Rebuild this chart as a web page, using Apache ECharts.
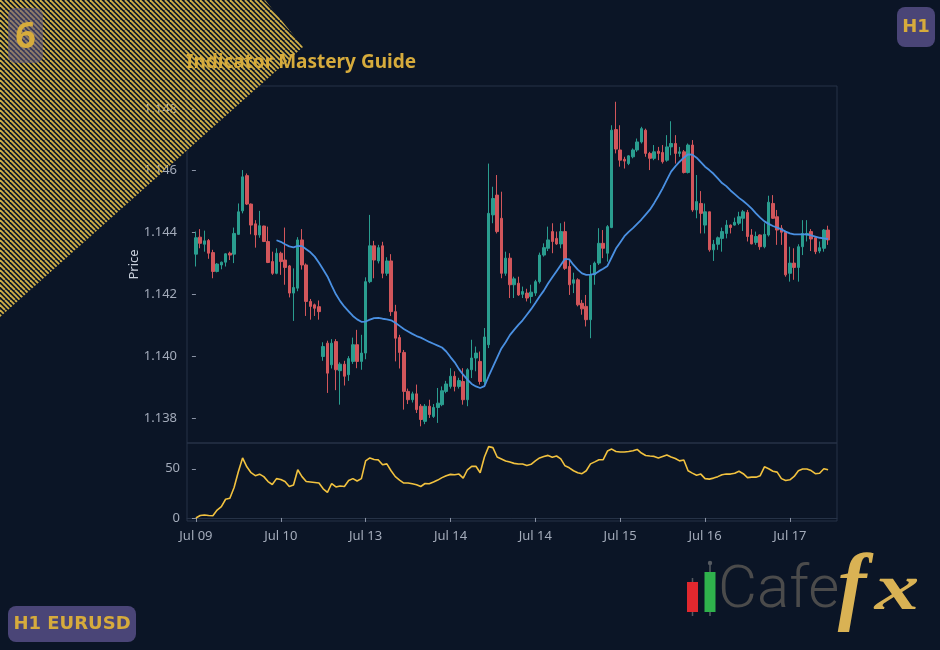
<!DOCTYPE html>
<html><head><meta charset="utf-8">
<script src="https://cdn.jsdelivr.net/npm/echarts@6/dist/echarts.min.js"></script>
<style>html,body{margin:0;padding:0;background:#0b1526;}#chart{width:940px;height:650px;}</style>
</head><body><div id="chart"></div>
<script>
const dayLabels = ['Jul 09','Jul 10','Jul 13','Jul 14','Jul 14','Jul 15','Jul 16','Jul 17'];
const labelIdx = [0,20,40,60,80,100,120,140];
const priceTicks = [1.138,1.140,1.142,1.144,1.146,1.148];
const oscTicks = [0,50];

const opens = [1.14330,1.14385,1.14362,1.14374,1.14335,1.14274,1.14295,1.14304,1.14333,1.14330,
1.14394,1.14470,1.14584,1.14492,1.14428,1.14392,1.14421,1.14371,1.14306,1.14268,
1.14333,1.14311,1.14292,1.14204,1.14220,1.14376,1.14295,1.14177,1.14166,1.14160,
1.13999,1.14042,1.13972,1.14047,1.13953,1.13974,1.13940,1.13983,1.14037,1.13983,
1.14010,1.14241,1.14357,1.14308,1.14357,1.14268,1.14308,1.14144,1.14060,1.14012,
1.13886,1.13859,1.13878,1.13838,1.13789,1.13838,1.13805,1.13834,1.13843,1.13886,
1.13902,1.13935,1.13902,1.13918,1.13859,1.13956,1.13994,1.13983,1.13918,1.14037,
1.14457,1.14521,1.14446,1.14268,1.14317,1.14231,1.14236,1.14200,1.14204,1.14193,
1.14204,1.14241,1.14327,1.14349,1.14403,1.14381,1.14363,1.14403,1.14290,1.14236,
1.14247,1.14171,1.14161,1.14118,1.14263,1.14301,1.14365,1.14333,1.14416,1.14733,
1.14667,1.14637,1.14623,1.14645,1.14667,1.14693,1.14731,1.14656,1.14640,1.14663,
1.14659,1.14634,1.14677,1.14688,1.14656,1.14661,1.14594,1.14683,1.14473,1.14494,
1.14424,1.14467,1.14344,1.14362,1.14381,1.14397,1.14424,1.14424,1.14430,1.14446,
1.14465,1.14392,1.14368,1.14392,1.14354,1.14392,1.14494,1.14451,1.14414,1.14401,
1.14268,1.14301,1.14287,1.14354,1.14392,1.14403,1.14383,1.14340,1.14349,1.14408];

const closes = [1.14383,1.14365,1.14373,1.14333,1.14274,1.14298,1.14304,1.14331,1.14327,1.14397,
1.14467,1.14580,1.14492,1.14424,1.14392,1.14422,1.14371,1.14303,1.14268,1.14333,
1.14306,1.14287,1.14204,1.14222,1.14376,1.14295,1.14177,1.14161,1.14155,1.14144,
1.14031,1.13945,1.14042,1.13956,1.13974,1.13935,1.13992,1.14037,1.13983,1.14010,
1.14241,1.14357,1.14311,1.14351,1.14268,1.14308,1.14144,1.14058,1.14012,1.13886,
1.13859,1.13878,1.13827,1.13795,1.13838,1.13811,1.13834,1.13848,1.13888,1.13910,
1.13935,1.13902,1.13921,1.13859,1.13956,1.13994,1.14010,1.13918,1.14062,1.14462,
1.14510,1.14403,1.14268,1.14317,1.14231,1.14250,1.14198,1.14209,1.14188,1.14207,
1.14241,1.14327,1.14351,1.14376,1.14371,1.14363,1.14403,1.14284,1.14231,1.14247,
1.14166,1.14153,1.14118,1.14263,1.14301,1.14365,1.14349,1.14419,1.14731,1.14670,
1.14634,1.14631,1.14648,1.14667,1.14693,1.14736,1.14656,1.14640,1.14661,1.14656,
1.14629,1.14677,1.14688,1.14656,1.14661,1.14594,1.14683,1.14473,1.14500,1.14462,
1.14467,1.14344,1.14362,1.14383,1.14403,1.14424,1.14416,1.14433,1.14451,1.14467,
1.14387,1.14363,1.14387,1.14354,1.14394,1.14498,1.14446,1.14408,1.14401,1.14263,
1.14301,1.14287,1.14354,1.14397,1.14397,1.14379,1.14338,1.14351,1.14408,1.14376];

const lows = [1.14290,1.14349,1.14338,1.14315,1.14252,1.14271,1.14281,1.14290,1.14311,1.14301,
1.14392,1.14462,1.14489,1.14394,1.14351,1.14383,1.14369,1.14301,1.14263,1.14265,
1.14263,1.14231,1.14190,1.14114,1.14210,1.14280,1.14130,1.14118,1.14130,1.14118,
1.13985,1.13881,1.13960,1.13890,1.13843,1.13905,1.13920,1.13975,1.13961,1.13956,
1.13990,1.14236,1.14252,1.14300,1.14252,1.14260,1.14130,1.13983,1.13960,1.13827,
1.13845,1.13850,1.13816,1.13773,1.13780,1.13800,1.13800,1.13784,1.13838,1.13880,
1.13895,1.13886,1.13895,1.13843,1.13838,1.13929,1.13951,1.13908,1.13908,1.14026,
1.14430,1.14397,1.14252,1.14260,1.14188,1.14188,1.14195,1.14188,1.14177,1.14171,
1.14195,1.14235,1.14322,1.14340,1.14333,1.14360,1.14349,1.14279,1.14198,1.14204,
1.14161,1.14134,1.14096,1.14058,1.14231,1.14295,1.14317,1.14306,1.14414,1.14656,
1.14613,1.14607,1.14618,1.14640,1.14661,1.14688,1.14645,1.14602,1.14634,1.14634,
1.14623,1.14629,1.14650,1.14623,1.14645,1.14591,1.14591,1.14467,1.14446,1.14397,
1.14397,1.14338,1.14308,1.14344,1.14338,1.14381,1.14397,1.14422,1.14424,1.14405,
1.14371,1.14362,1.14360,1.14344,1.14349,1.14387,1.14444,1.14360,1.14360,1.14257,
1.14241,1.14247,1.14241,1.14327,1.14371,1.14340,1.14330,1.14333,1.14338,1.14360];

const highs = [1.14403,1.14411,1.14406,1.14379,1.14344,1.14301,1.14306,1.14333,1.14338,1.14416,
1.14494,1.14602,1.14591,1.14494,1.14440,1.14470,1.14422,1.14419,1.14338,1.14349,
1.14338,1.14416,1.14295,1.14284,1.14385,1.14411,1.14300,1.14185,1.14170,1.14180,
1.14045,1.14050,1.14055,1.14055,1.13980,1.13985,1.14000,1.14060,1.14085,1.14069,
1.14255,1.14457,1.14373,1.14360,1.14370,1.14320,1.14330,1.14166,1.14069,1.14020,
1.13895,1.13885,1.13908,1.13845,1.13845,1.13859,1.13845,1.13897,1.13902,1.13920,
1.13961,1.13951,1.13930,1.13961,1.13961,1.14053,1.14031,1.14015,1.14091,1.14623,
1.14548,1.14586,1.14532,1.14338,1.14333,1.14257,1.14257,1.14225,1.14218,1.14231,
1.14247,1.14335,1.14365,1.14419,1.14430,1.14403,1.14430,1.14435,1.14311,1.14270,
1.14252,1.14182,1.14198,1.14295,1.14306,1.14414,1.14408,1.14424,1.14747,1.14823,
1.14747,1.14645,1.14650,1.14672,1.14704,1.14742,1.14736,1.14661,1.14683,1.14677,
1.14683,1.14715,1.14760,1.14715,1.14677,1.14667,1.14688,1.14699,1.14586,1.14534,
1.14494,1.14467,1.14376,1.14387,1.14416,1.14440,1.14426,1.14448,1.14467,1.14473,
1.14473,1.14411,1.14403,1.14394,1.14430,1.14519,1.14521,1.14473,1.14424,1.14403,
1.14354,1.14349,1.14362,1.14440,1.14440,1.14411,1.14387,1.14371,1.14411,1.14422];

const maStart = 19;
const ma20 = [1.14375,1.14370,1.14362,1.14355,1.14352,1.14357,1.14356,1.14346,1.14336,1.14322,
1.14302,1.14280,1.14258,1.14228,1.14200,1.14178,1.14160,1.14145,1.14130,1.14119,
1.14111,1.14112,1.14118,1.14123,1.14124,1.14121,1.14119,1.14116,1.14108,1.14098,
1.14088,1.14080,1.14072,1.14065,1.14060,1.14053,1.14046,1.14040,1.14034,1.14028,
1.14015,1.13997,1.13980,1.13958,1.13940,1.13924,1.13910,1.13902,1.13897,1.13903,
1.13935,1.13965,1.13995,1.14025,1.14045,1.14068,1.14085,1.14101,1.14116,1.14134,
1.14152,1.14172,1.14193,1.14212,1.14235,1.14255,1.14275,1.14295,1.14315,1.14313,
1.14295,1.14280,1.14268,1.14263,1.14264,1.14266,1.14275,1.14283,1.14292,1.14320,
1.14348,1.14368,1.14388,1.14402,1.14414,1.14428,1.14442,1.14458,1.14474,1.14495,
1.14518,1.14543,1.14570,1.14597,1.14614,1.14629,1.14642,1.14653,1.14652,1.14642,
1.14628,1.14613,1.14602,1.14590,1.14575,1.14560,1.14550,1.14536,1.14524,1.14512,
1.14502,1.14490,1.14477,1.14462,1.14448,1.14436,1.14428,1.14421,1.14416,1.14410,
1.14403,1.14397,1.14394,1.14394,1.14394,1.14394,1.14391,1.14387,1.14383,1.14381,1.14379];

const osc = [0,2.5,3,2.5,2.3,8,11.5,19,20,31,
47,61,52,46,43,44.5,42,37,34,40,
39,37,32,33.5,49,42,37,36.5,36,35.5,
29.6,26,35,31.5,32.5,32,38,40,37.5,40,
58,61,59.5,59,54,55,48,42,38.5,35.5,
35.5,34.7,33.7,32,35,34.7,36.5,38.5,41,43,
44.3,43.9,44.6,40.5,49,52.4,52.5,46,62,72.5,
71.5,62,60,58,56.8,55.5,54.8,54.8,53.4,54.5,
58,61,62.5,63.6,61.8,63,60,53,51,48,
46,45,48,55,57,59.2,59.2,68,70,67.5,
67,67,67.6,68.3,69.7,66,63.5,63,62.6,61,
62.5,64,62,60.5,58,59,48,45.6,43.5,44.6,
40,39.5,40.5,42,44,44.6,44.6,45.4,47.5,45,
41,41.5,41.5,43,52,50,47.5,46.6,40,38,
38.8,42.2,48,49.7,49.7,48.2,45,45.5,50,49];

const candleData = opens.map((o, i) => [i, o, closes[i], lows[i], highs[i]]);
const maData = ma20.map((v, i) => [maStart + i, v]);
const oscData = osc.map((v, i) => [i, v]);

function hatchCanvas() {
  const c = document.createElement('canvas');
  c.width = 10; c.height = 10;
  const g = c.getContext('2d');
  g.clearRect(0, 0, 10, 10);
  g.strokeStyle = '#cfae48';
  g.lineWidth = 1.9;
  for (let k = -10; k <= 20; k += 5) {
    g.beginPath(); g.moveTo(k, 0); g.lineTo(k + 10, 10); g.stroke();
  }
  return c;
}

const gold = '#d6ab3c';
const logoGold = '#d9b254';
const axisTxt = '#a3abba';
const border = '#263246';
const FONT = 'Noto Sans';

const chart = echarts.init(document.getElementById('chart'), null, {renderer: 'canvas'});
chart.setOption({
  backgroundColor: '#0b1526',
  animation: false,
  textStyle: {fontFamily: FONT},
  title: {
    text: 'Indicator Mastery Guide', left: 186, top: 53, padding: 0, z: 10,
    textStyle: {color: gold, fontSize: 19, fontWeight: 'bold', fontFamily: FONT}
  },
  grid: [
    {left: 187, top: 86, width: 650, height: 357, show: true, borderColor: border, borderWidth: 1, backgroundColor: 'transparent'},
    {left: 187, top: 443, width: 650, height: 78, show: true, borderColor: border, borderWidth: 1, backgroundColor: 'transparent'}
  ],
  xAxis: [
    {type: 'value', gridIndex: 0, min: -2.1, max: 151.1,
     axisLine: {show: false}, axisTick: {show: false}, axisLabel: {show: false}, splitLine: {show: false}},
    {type: 'value', gridIndex: 1, min: -2.1, max: 151.1,
     axisLine: {show: true, lineStyle: {color: border}},
     axisTick: {show: true, customValues: labelIdx, length: 4, lineStyle: {color: '#8a93a5'}},
     axisLabel: {customValues: labelIdx, color: axisTxt, fontSize: 13, margin: 9,
       formatter: v => dayLabels[labelIdx.indexOf(Math.round(v))] || ''},
     splitLine: {show: false}}
  ],
  yAxis: [
    {type: 'value', gridIndex: 0, min: 1.13719, max: 1.14874, scale: true,
     name: 'Price', nameLocation: 'middle', nameGap: 46, nameMoveOverlap: false,
     nameTextStyle: {color: '#c9d0dc', fontSize: 13},
     axisLine: {show: false},
     axisTick: {show: true, customValues: priceTicks, length: 4, lineStyle: {color: '#8a93a5'}},
     axisLabel: {customValues: priceTicks, color: axisTxt, fontSize: 13, margin: 10,
       formatter: v => v.toFixed(3)},
     splitLine: {show: false}},
    {type: 'value', gridIndex: 1, min: -3.1, max: 76.2,
     axisLine: {show: false},
     axisTick: {show: true, customValues: oscTicks, length: 4, lineStyle: {color: '#8a93a5'}},
     axisLabel: {customValues: oscTicks, color: axisTxt, fontSize: 13, margin: 7,
       formatter: v => String(Math.round(v))},
     splitLine: {show: false}}
  ],
  series: [
    {type: 'candlestick', xAxisIndex: 0, yAxisIndex: 0, data: candleData,
     encode: {x: 0, y: [1, 2, 3, 4]}, barWidth: 3,
     itemStyle: {color: '#2a9d8f', color0: '#d2565b', borderColor: '#2a9d8f', borderColor0: '#d2565b', borderWidth: 1}},
    {type: 'line', xAxisIndex: 0, yAxisIndex: 0, data: maData, showSymbol: false,
     lineStyle: {color: '#4a90e2', width: 1.8}, z: 3},
    {type: 'line', xAxisIndex: 1, yAxisIndex: 1, data: oscData, showSymbol: false,
     lineStyle: {color: '#f2c23f', width: 1.6}}
  ],
  graphic: [
    {type: 'polygon', z: 5, silent: true,
     shape: {points: [[0, 0], [265, 0], [303, 47], [0, 317]]},
     style: {fill: {image: hatchCanvas(), repeat: 'repeat'}}},
    {type: 'rect', z: 7, silent: true, shape: {x: 8, y: 8, width: 35, height: 55, r: 7},
     style: {fill: 'rgba(95,88,135,0.55)'}},
    {type: 'text', z: 8, silent: true, x: 25.5, y: 38,
     style: {text: '6', fill: gold, font: 'bold 36px "Noto Sans"', align: 'center', verticalAlign: 'middle'}},
    {type: 'rect', z: 7, silent: true, shape: {x: 897, y: 7, width: 38, height: 40, r: 8},
     style: {fill: '#4a4577'}},
    {type: 'text', z: 8, silent: true, x: 916, y: 27,
     style: {text: 'H1', fill: gold, font: 'bold 18px "DejaVu Sans"', align: 'center', verticalAlign: 'middle'}},
    {type: 'rect', z: 7, silent: true, shape: {x: 8, y: 606, width: 128, height: 36, r: 8},
     style: {fill: '#4a4577'}},
    {type: 'text', z: 8, silent: true, x: 72, y: 624,
     style: {text: 'H1 EURUSD', fill: gold, font: 'bold 18px "DejaVu Sans"', align: 'center', verticalAlign: 'middle'}},
    {type: 'line', z: 7, silent: true, shape: {x1: 692.5, y1: 578, x2: 692.5, y2: 616}, style: {stroke: '#555a60', lineWidth: 1.5}},
    {type: 'rect', z: 8, silent: true, shape: {x: 687, y: 582, width: 11, height: 30},
     style: {fill: '#e0282e'}},
    {type: 'line', z: 7, silent: true, shape: {x1: 710, y1: 563, x2: 710, y2: 616}, style: {stroke: '#555a60', lineWidth: 1.5}},
    {type: 'circle', z: 7, silent: true, shape: {cx: 710, cy: 563, r: 2.2}, style: {fill: '#555a60'}},
    {type: 'rect', z: 8, silent: true, shape: {x: 704.5, y: 572, width: 11, height: 40},
     style: {fill: '#2fb24c'}},
    {type: 'text', z: 8, silent: true, x: 718, y: 592,
     style: {text: 'Cafe', fill: '#4b4b4b', font: '300 60px Roboto', align: 'left', verticalAlign: 'middle'}},
    {type: 'text', z: 9, silent: true, x: 852, y: 591,
     style: {text: 'f', fill: logoGold, font: 'italic bold 86px "Liberation Serif"', align: 'center', verticalAlign: 'middle'}},
    {type: 'text', z: 9, silent: true, x: 897, y: 592, scaleX: 1.35, originX: 0, originY: 0,
     style: {text: 'x', fill: logoGold, font: 'italic bold 66px "Liberation Serif"', align: 'center', verticalAlign: 'middle'}}
  ]
});
</script></body></html>
